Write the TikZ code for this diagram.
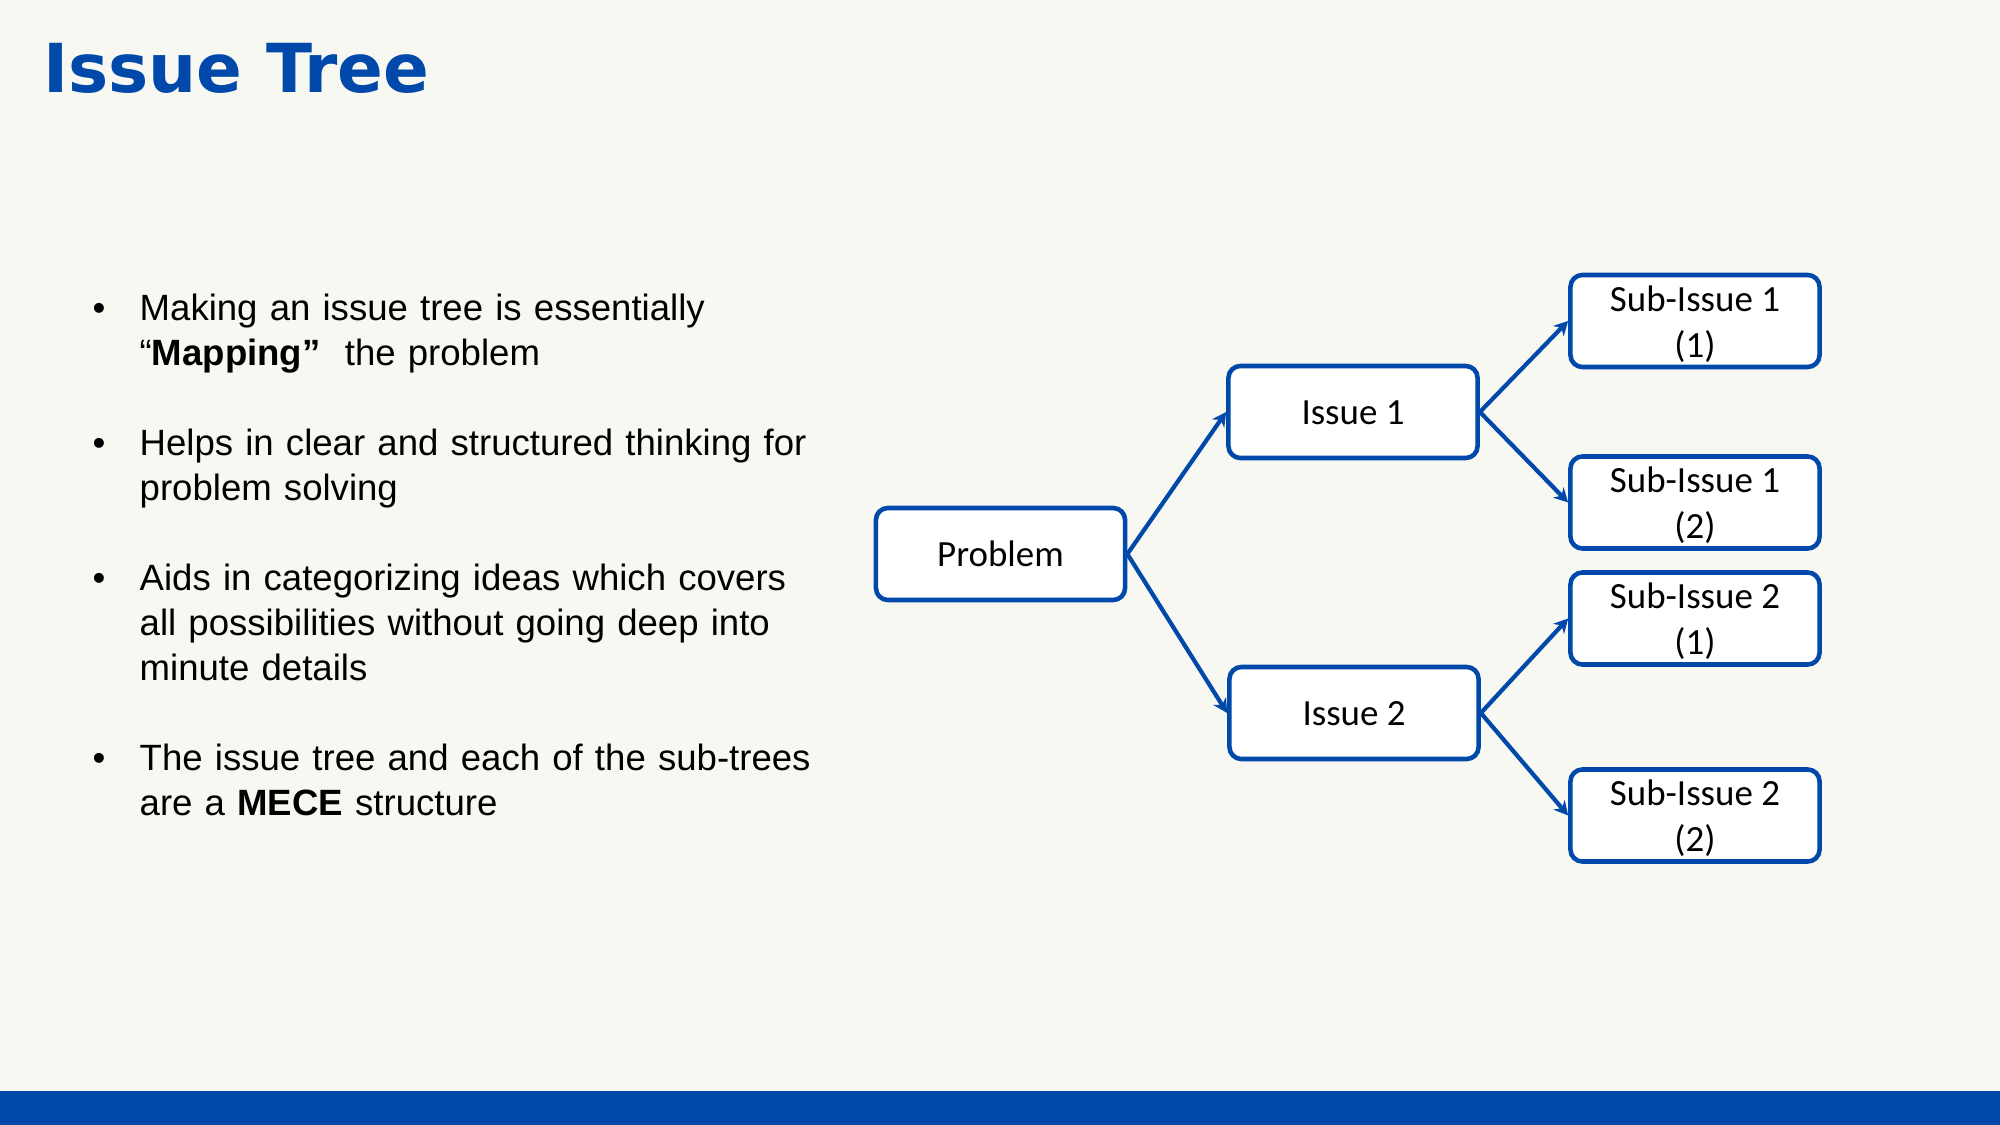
\documentclass[tikz,border=0pt]{standalone}
\usepackage{fontspec}
\setmainfont{Liberation Sans}
\newfontfamily\boxfont{Carlito}
\newfontfamily\headfont{DejaVu Sans}
\usepackage{xcolor}
\usetikzlibrary{arrows.meta}
\definecolor{pagebg}{RGB}{248,248,243}
\definecolor{cobalt}{RGB}{0,72,170}

\begin{document}
\begin{tikzpicture}[x=0.01cm,y=-0.01cm,>={Stealth[length=4pt,width=4.2pt]},line join=round,
  boxbase/.style={draw=cobalt,line width=1.3pt,fill=white,rounded corners=3.4pt,minimum width=2.49cm,minimum height=0.92cm,inner sep=0pt,align=center,font=\boxfont\fontsize{10.5}{13.1}\selectfont},
  issuebox/.style={boxbase,execute at begin node={\rule{0pt}{7.35pt}}},
  subbox/.style={boxbase,text height=22pt},
  bullettext/.style={anchor=base west,inner sep=0pt,text width=8cm,align=left,font=\fontsize{10.4}{12.7}\selectfont},
  bulletdot/.style={anchor=base,inner sep=0pt,font=\fontsize{10.4}{12.7}\selectfont},
  link/.style={->,cobalt,line width=1.2pt}]
  \fill[pagebg] (0,0) rectangle (2000,1125);
  \useasboundingbox (0,0) rectangle (2000,1125);
  \fill[cobalt] (0,1091) rectangle (2000,1125);
  \node[anchor=base west,inner sep=0pt,text=cobalt,font=\headfont\bfseries\fontsize{19.2}{22}\selectfont] (T) at (42.500,93.000) {Issue Tree};
  \node[bulletdot] (D1) at (99.000,321.000) {•};
  \node[bulletdot] (D2) at (99.000,456.000) {•};
  \node[bulletdot] (D3) at (99.000,591.000) {•};
  \node[bulletdot] (D4) at (99.000,771.000) {•};
  \node[bullettext] (B1) at (139.000,321.000) {Making an issue tree is essentially\\“\textbf{Mapping”}~ the problem};
  \node[bullettext] (B2) at (139.000,456.000) {Helps in clear and structured thinking for\\problem solving};
  \node[bullettext] (B3) at (139.000,591.000) {Aids in categorizing ideas which covers\\all possibilities without going deep into\\minute details};
  \node[bullettext] (B4) at (139.000,771.000) {The issue tree and each of the sub-trees\\are a \textbf{MECE} structure};
  \node[issuebox] (PR) at (1000.500,554.000) {Problem};
  \node[issuebox] (I1) at (1353.000,412.000) {Issue 1};
  \node[issuebox] (I2) at (1354.000,713.000) {Issue 2};
  \node[subbox] (S11) at (1695.000,321.000) {Sub-Issue 1\\(1)};
  \node[subbox] (S12) at (1695.000,502.500) {Sub-Issue 1\\(2)};
  \node[subbox] (S21) at (1695.000,618.500) {Sub-Issue 2\\(1)};
  \node[subbox] (S22) at (1695.000,815.500) {Sub-Issue 2\\(2)};
  \draw[link] (PR.east) -- (I1.west);
  \draw[link] (PR.east) -- (I2.west);
  \draw[link] (I1.east) -- (S11.west);
  \draw[link] (I1.east) -- (S12.west);
  \draw[link] (I2.east) -- (S21.west);
  \draw[link] (I2.east) -- (S22.west);
\end{tikzpicture}
\end{document}
